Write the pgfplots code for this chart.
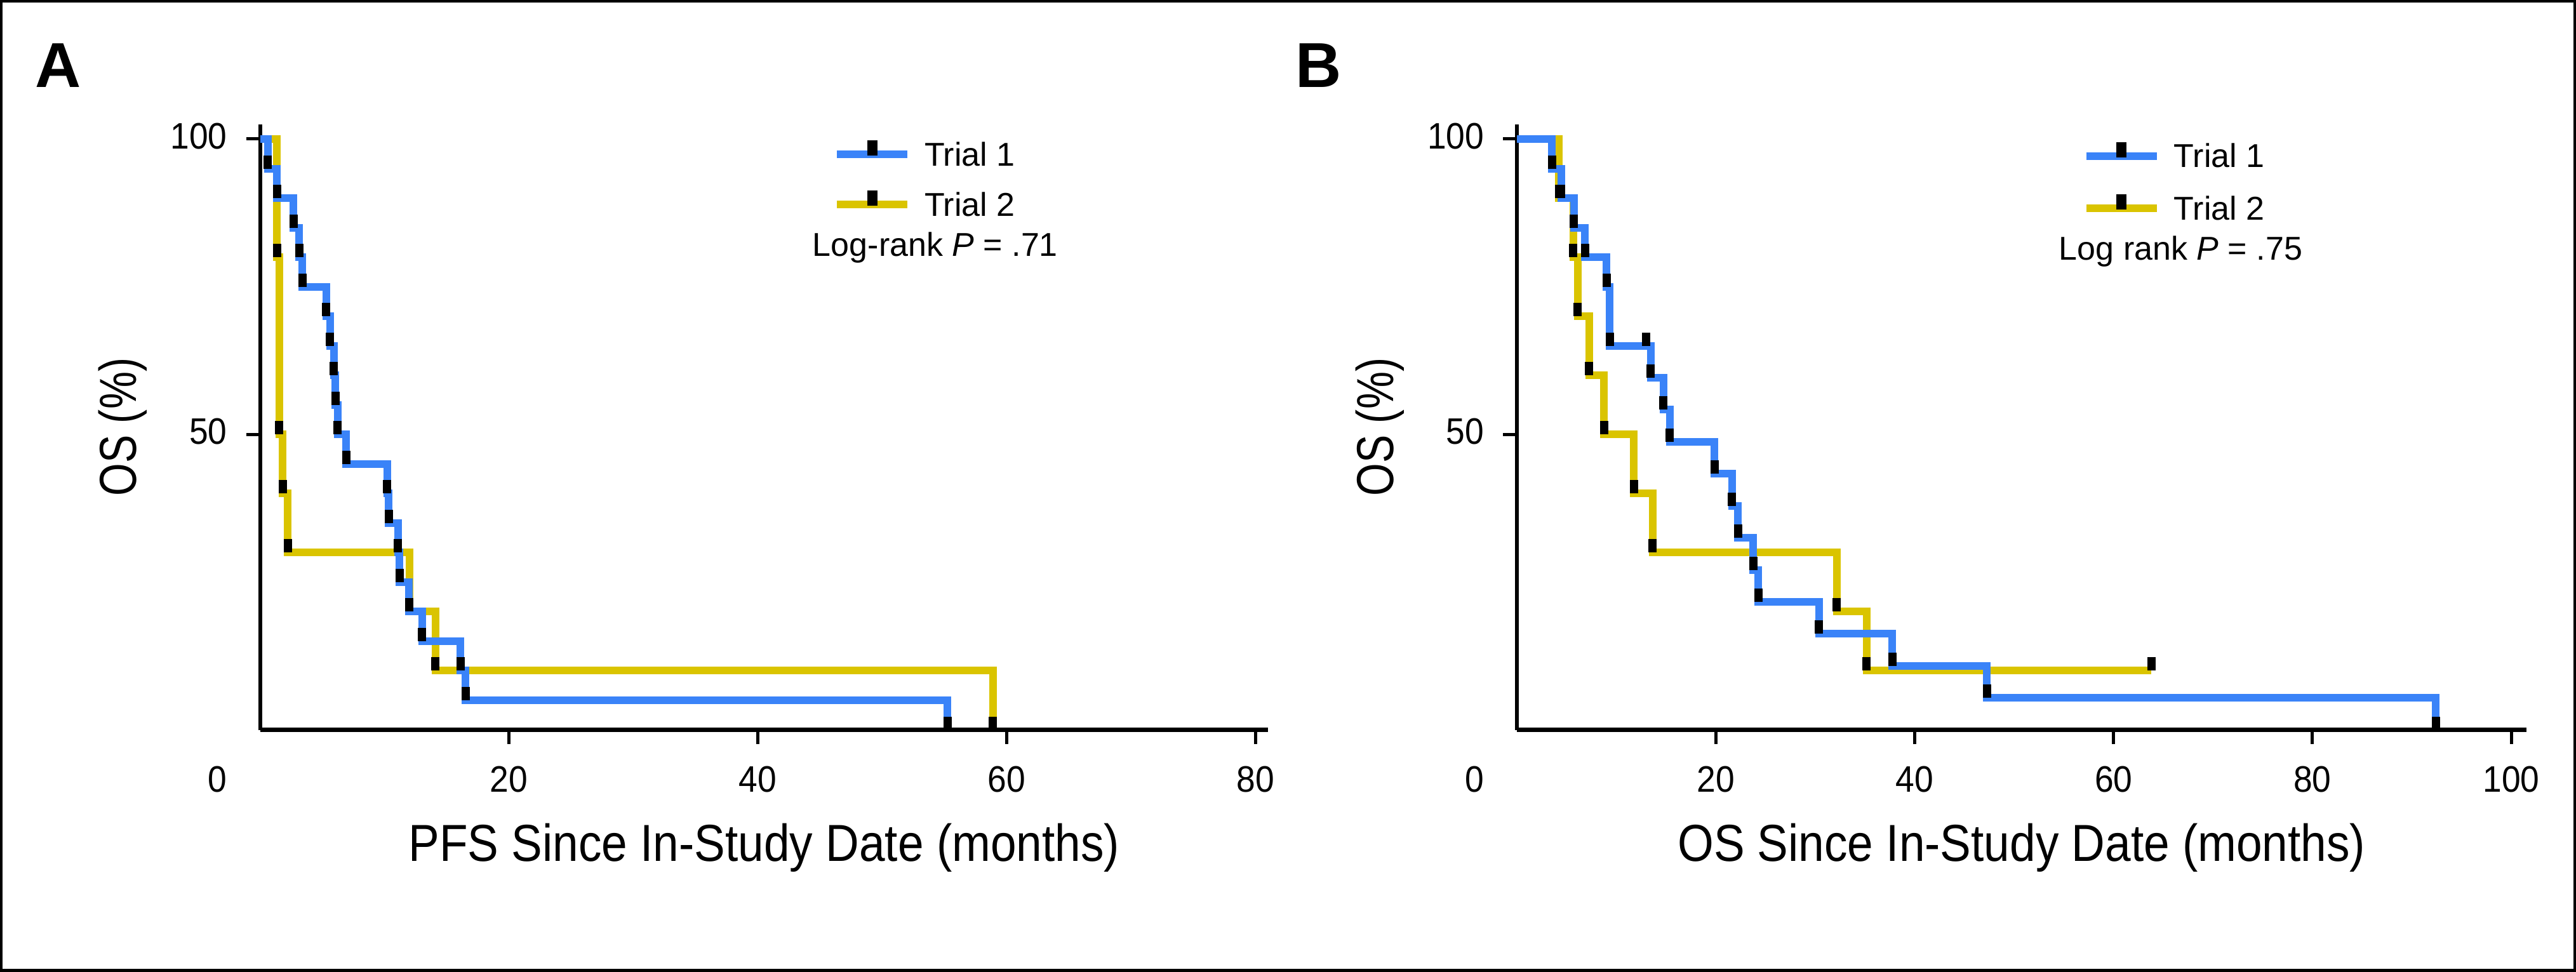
\documentclass[border=0pt]{standalone}
\usepackage{fontspec}
\setmainfont{Liberation Sans}
\newfontfamily\tickfamily[FakeStretch=0.92]{Liberation Sans}
\newfontfamily\xlabfamily[FakeStretch=0.89]{Liberation Sans}
\newfontfamily\ylabfamily[FakeStretch=0.81]{Liberation Sans}
\usepackage{pgfplots}
\pgfplotsset{compat=1.18}
\definecolor{tblue}{RGB}{58,131,248}
\definecolor{tyellow}{RGB}{218,196,0}
\pgfdeclareplotmark{utick}{\pgfpathrectangle{\pgfqpoint{-0.65pt}{0pt}}{\pgfqpoint{1.3pt}{2.1pt}}\pgfusepathqfill}
\newcommand{\tickfont}{\tickfamily\fontsize{5.8pt}{6pt}\selectfont}
\newcommand{\legfont}{\fontsize{5.2pt}{6pt}\selectfont}
\pgfplotsset{
  km/.style={
    scale only axis,
    axis lines=left,
    axis line style={-, black},
    x axis line style={line width=0.7pt},
    y axis line style={line width=0.6pt},
    ymin=0, ymax=102.5, xmin=0,
    height=95.38pt,
    ytick={50,100},
    tick align=outside,
    major tick length=2.2pt,
    tick style={black, line width=0.5pt},
    /pgf/number format/assume math mode=true,
    ticklabel style={font=\tickfont, inner sep=0pt},
    xticklabel style={anchor=north, yshift=-3.35pt},
    yticklabel style={anchor=east, xshift=-2.8pt, yshift=0.45pt},
    every axis x label/.style={at={(axis description cs:0.5,0)}, anchor=base, yshift=-20.65pt, font=\xlabfamily\fontsize{8.2pt}{9pt}\selectfont},
    every axis y label/.style={at={([xshift=-21.6pt]axis description cs:0,0.5)}, rotate=90, anchor=center, font=\ylabfamily\fontsize{8.2pt}{9pt}\selectfont},
    ylabel={OS (\%)},
    clip=false,
    legend image code/.code={
      \draw[#1, line width=1.2pt] (0pt,0.7pt) -- (11.1pt,0.7pt);
      \fill[black] (4.95pt,0.7pt) rectangle (6.15pt,2.7pt);
    },
    legend cell align=left,
  },
  kmline/.style={line width=1.2pt, const plot, mark=none, forget plot},
  kmmarks/.style={only marks, mark=utick, black, forget plot},
}
\begin{document}
\begin{tikzpicture}
\useasboundingbox (0,0) rectangle (405.7pt,153pt);
\draw[line width=0.8pt] (0,0) rectangle (405.7pt,153pt);
\node[anchor=base west, inner sep=0pt, font=\bfseries\fontsize{10pt}{12pt}\selectfont] at (5.4pt,139.2pt) {A};
\node[anchor=base west, inner sep=0pt, font=\bfseries\fontsize{10pt}{12pt}\selectfont] at (203.8pt,139.2pt) {B};

% ---------------- Panel A: PFS ----------------
\begin{axis}[km,
  at={(40.95pt,38.05pt)}, anchor=south west,
  width=158.76pt, xmax=81,
  xtick={20,40,60,80},
  xlabel={PFS Since In-Study Date (months)},
  legend style={draw=none, fill=none, inner sep=0pt, outer sep=0pt, font=\legfont,
    nodes={inner sep=0pt}, row sep=2.4pt,
    /tikz/every odd column/.append style={column sep=2.1pt},
    at={(axis description cs:0.5685,0.9737)}, anchor=north west},
]
% Trial 2 (yellow)
\addplot[kmline, tyellow] coordinates {
 (0,100) (1.36,80) (1.54,50) (1.83,40) (2.22,30) (12.0,20) (14.09,10) (58.89,0)
};
% Trial 1 (blue)
\addplot[kmline, tblue] coordinates {
 (0,100) (0.63,95) (1.36,90) (2.68,85) (3.15,80) (3.41,75) (5.32,70) (5.63,65)
 (5.94,60) (6.05,55) (6.23,50) (6.93,45) (10.21,40) (10.34,35) (11.09,30)
 (11.22,25) (11.98,20) (13.02,15) (16.12,10) (16.51,5) (55.23,0)
};
\addplot[kmmarks] coordinates {
 (1.36,80) (1.54,50) (1.83,40) (2.22,30) (12.0,20) (14.09,10) (58.89,0)
};
\addplot[kmmarks] coordinates {
 (0.63,95) (1.36,90) (2.68,85) (3.15,80) (3.41,75) (5.32,70) (5.63,65)
 (5.94,60) (6.05,55) (6.23,50) (6.93,45) (10.21,40) (10.34,35) (11.09,30)
 (11.22,25) (11.98,20) (13.02,15) (16.12,10) (16.51,5) (55.23,0)
};
\addlegendimage{tblue}\addlegendentry{Trial 1}
\addlegendimage{tyellow}\addlegendentry{Trial 2}
\node[anchor=base west, inner sep=0pt, font=\legfont] at (axis cs:44.31,80.2) {Log-rank \textit{P} = .71};
\node[anchor=north east, inner sep=0pt, xshift=-5pt, yshift=-5.55pt, font=\tickfont] at (axis cs:0,0) {0};
\end{axis}

% ---------------- Panel B: OS ----------------
\begin{axis}[km,
  at={(238.9pt,38.05pt)}, anchor=south west,
  width=158.95pt, xmax=101.5,
  xtick={20,40,60,80,100},
  xlabel={OS Since In-Study Date (months)},
  legend style={draw=none, fill=none, inner sep=0pt, outer sep=0pt, font=\legfont,
    nodes={inner sep=0pt}, row sep=2.7pt,
    /tikz/every odd column/.append style={column sep=2.1pt},
    at={(axis description cs:0.5605,0.9707)}, anchor=north west},
]
% Trial 2 (yellow)
\addplot[kmline, tyellow] coordinates {
 (0,100) (4.22,90) (5.65,80) (6.12,70) (7.26,60) (8.76,50) (11.77,40) (13.64,30)
 (32.15,20) (35.16,10) (63.8,10)
};
% Trial 1 (blue)
\addplot[kmline, tblue] coordinates {
 (0,100) (3.52,95) (4.44,90) (5.72,85) (6.86,80) (9.02,75) (9.35,65) (13.45,59.58)
 (14.74,54.17) (15.36,48.75) (19.87,43.33) (21.63,37.92) (22.25,32.5) (23.76,27.08)
 (24.27,21.67) (30.39,16.25) (37.76,10.83) (47.25,5.42) (92.4,0)
};
\addplot[kmmarks] coordinates {
 (4.22,90) (5.65,80) (6.12,70) (7.26,60) (8.76,50) (11.77,40) (13.64,30)
 (32.15,20) (35.16,10) (63.8,10)
};
\addplot[kmmarks] coordinates {
 (3.52,95) (4.44,90) (5.72,85) (6.86,80) (9.02,75) (9.35,65) (13.0,65) (13.45,59.58)
 (14.74,54.17) (15.36,48.75) (19.87,43.33) (21.63,37.92) (22.25,32.5) (23.76,27.08)
 (24.27,21.67) (30.39,16.25) (37.76,10.83) (47.25,5.42) (92.4,0)
};
\addlegendimage{tblue}\addlegendentry{Trial 1}
\addlegendimage{tyellow}\addlegendentry{Trial 2}
\node[anchor=base west, inner sep=0pt, font=\legfont] at (axis cs:54.4,79.5) {Log rank \textit{P} = .75};
\node[anchor=north east, inner sep=0pt, xshift=-5pt, yshift=-5.55pt, font=\tickfont] at (axis cs:0,0) {0};
\end{axis}
\end{tikzpicture}
\end{document}
